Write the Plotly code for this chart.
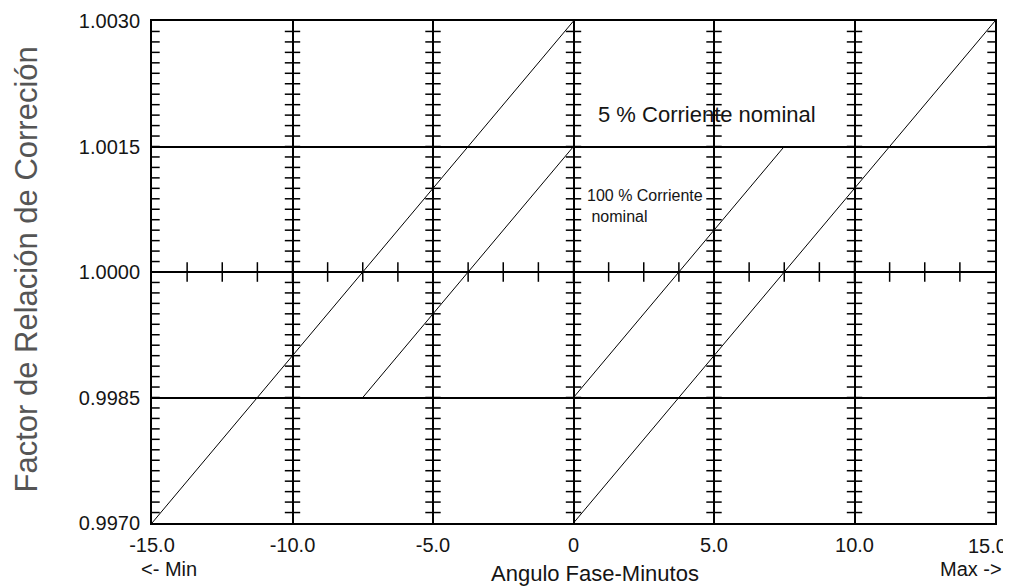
import plotly.graph_objects as go

# ---- data ----
x_5_left = [-15.0, 0.0]
y_5_left = [0.9970, 1.0030]
x_5_right = [0.0, 15.0]
y_5_right = [0.9970, 1.0030]
x_100_left = [-7.5, 0.0]
y_100_left = [0.9985, 1.0015]
x_100_right = [0.0, 7.5]
y_100_right = [0.9985, 1.0015]

x_tickvals = [-15, -10, -5, 0, 5, 10, 15]
x_ticktext = ["-15.0", "-10.0", "-5.0", "0", "5.0", "10.0", "15.0"]
y_tickvals = [0.9970, 0.9985, 1.0000, 1.0015, 1.0030]
y_ticktext = ["0.9970", "0.9985", "1.0000", "1.0015", "1.0030"]

X_MIN, X_MAX = -15.0, 15.0
Y_MIN, Y_MAX = 0.9970, 1.0030
Y_MINOR_STEP = 0.000125
X_MINOR_STEP = 1.25

FONT = "Liberation Sans, Arial, sans-serif"
TXT = "#151515"

fig = go.Figure()

line_style = dict(color="black", width=1)
for xs, ys in [(x_5_left, y_5_left), (x_5_right, y_5_right),
               (x_100_left, y_100_left), (x_100_right, y_100_right)]:
    fig.add_trace(go.Scatter(x=xs, y=ys, mode="lines", line=line_style,
                             showlegend=False, hoverinfo="skip"))

# minor tick marks along the vertical grid lines
n_y = int(round((Y_MAX - Y_MIN) / Y_MINOR_STEP))
ys_minor = [Y_MIN + i * Y_MINOR_STEP for i in range(1, n_y)]
tx, ty = [], []
for gx in x_tickvals:
    for yy in ys_minor:
        tx.append(gx)
        ty.append(yy)
fig.add_trace(go.Scatter(x=tx, y=ty, mode="markers",
                         marker=dict(symbol="line-ew", size=11,
                                     line=dict(color="black", width=1.5)),
                         showlegend=False, hoverinfo="skip"))

# minor tick marks along the 1.0000 line
n_x = int(round((X_MAX - X_MIN) / X_MINOR_STEP))
xs_minor = [X_MIN + i * X_MINOR_STEP for i in range(1, n_x)]
fig.add_trace(go.Scatter(x=xs_minor, y=[1.0] * len(xs_minor), mode="markers",
                         marker=dict(symbol="line-ns", size=14,
                                     line=dict(color="black", width=1.5)),
                         showlegend=False, hoverinfo="skip"))

# the last x label sits against the right edge of the window, so it is drawn
# as a right-anchored annotation instead of a centred tick label
axis_ticktext = x_ticktext[:-1] + [""]

fig.update_xaxes(range=[X_MIN, X_MAX], tickvals=x_tickvals, ticktext=axis_ticktext,
                 showgrid=True, gridcolor="black", gridwidth=2,
                 showline=True, mirror=True, linecolor="black", linewidth=2,
                 zeroline=False, ticks="", ticklabelstandoff=3,
                 ticklabeloverflow="allow", automargin=False,
                 tickfont=dict(family=FONT, size=20, color=TXT))
fig.update_yaxes(range=[Y_MIN, Y_MAX], tickvals=y_tickvals, ticktext=y_ticktext,
                 showgrid=True, gridcolor="black", gridwidth=2,
                 showline=True, mirror=True, linecolor="black", linewidth=2,
                 zeroline=False, ticks="", ticklabelstandoff=6,
                 ticklabeloverflow="allow", automargin=False,
                 tickfont=dict(family=FONT, size=20, color=TXT))

annotations = [
    dict(text=x_ticktext[-1], x=1.015, y=-0.045, xref="paper", yref="paper",
         showarrow=False, xanchor="right", yanchor="middle", borderpad=0,
         font=dict(family=FONT, size=20, color=TXT)),
    dict(text="Factor de Relación de Correción", x=-0.1483, y=0.505,
         xref="paper", yref="paper", textangle=-90, showarrow=False,
         xanchor="center", yanchor="middle",
         font=dict(family=FONT, size=31, color="#555")),
    dict(text="Angulo Fase-Minutos", x=0.5255, y=-0.1, xref="paper", yref="paper",
         showarrow=False, xanchor="center", yanchor="middle",
         font=dict(family=FONT, size=22, color=TXT)),
    dict(text="<- Min", x=-0.0142, y=-0.0916, xref="paper", yref="paper",
         showarrow=False, xanchor="left", yanchor="middle", borderpad=0,
         font=dict(family=FONT, size=20, color=TXT)),
    dict(text="Max ->", x=1.0095, y=-0.0916, xref="paper", yref="paper",
         showarrow=False, xanchor="right", yanchor="middle", borderpad=0,
         font=dict(family=FONT, size=20, color=TXT)),
    dict(text="5 % Corriente nominal", x=0.8, y=1.00188, xref="x", yref="y",
         showarrow=False, xanchor="left", yanchor="middle",
         font=dict(family=FONT, size=22, color=TXT)),
    dict(text="100 % Corriente<br> nominal", x=0.4, y=1.00079, xref="x", yref="y",
         showarrow=False, xanchor="left", yanchor="middle", align="left",
         font=dict(family=FONT, size=16, color=TXT)),
]

# page body has an 8px margin: shrink the figure and margins so the plot area
# lands on the same pixels as the reference inside the 1011x586 window
fig.update_layout(width=1003, height=578, margin=dict(l=144, r=16, t=13, b=63),
                  paper_bgcolor="white", plot_bgcolor="white",
                  annotations=annotations, showlegend=False)

fig.write_html("out.html")
